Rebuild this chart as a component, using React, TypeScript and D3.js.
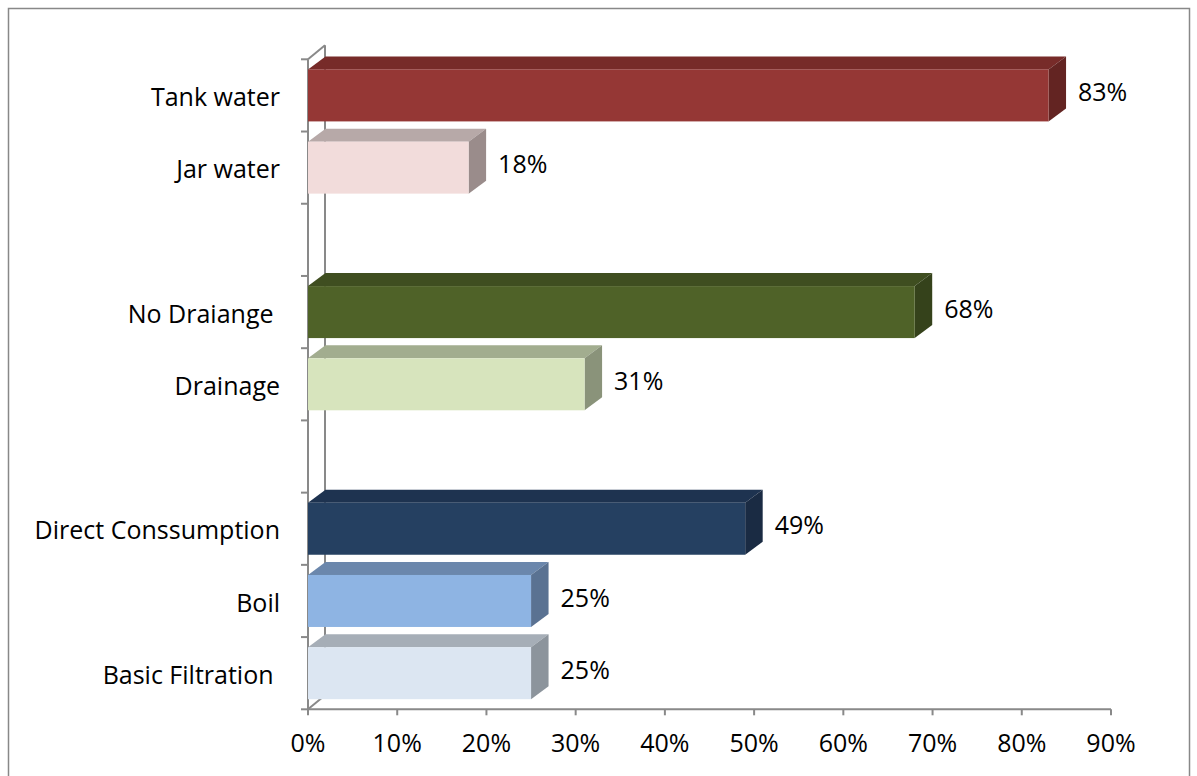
import React from "react";
import * as d3 from "d3";

const categories = [
  "Tank water",
  "Jar water",
  "",
  "No Draiange ",
  "Drainage",
  "",
  "Direct Conssumption",
  "Boil",
  "Basic Filtration ",
];
const values: (number | null)[] = [0.83, 0.18, null, 0.68, 0.31, null, 0.49, 0.25, 0.25];
const frontColors = ["#953735", "#F2DCDB", "", "#4F6228", "#D7E4BD", "", "#254061", "#8EB4E3", "#DCE6F2"];
const topColors = ["#772B29", "#B7A9A8", "", "#3F4E20", "#A2AD8F", "", "#1E3350", "#6B87AC", "#A6AEB7"];
const sideColors = ["#632422", "#9A8C8B", "", "#35421B", "#8A937A", "", "#1A2B43", "#5A7292", "#8C949C"];
const xTicks = [0, 0.1, 0.2, 0.3, 0.4, 0.5, 0.6, 0.7, 0.8, 0.9];

const W = 1197;
const H = 776;
const FONT = "'Open Sans', sans-serif";
const FS = 25;

export default function App() {
  const x = d3.scaleLinear().domain([0, 0.9]).range([308, 1111]);
  const ids = categories.map((_, i) => String(i));
  const y = d3.scaleBand<string>().domain(ids).range([59.3, 709.3]).paddingInner(0.28).paddingOuter(0.14);
  const step = y.step();
  const top = 59.3;
  const bottom = 709.3;
  const wdx = 17, wdy = -14; // wall depth
  const bdx = 17.5, bdy = -13; // bar depth
  const axisColor = "#898989";
  const fmt = d3.format(".0%");

  const yTickPos = d3.range(categories.length + 1).map((i) => top + i * step);

  return (
    <svg width={W} height={H} style={{ position: "absolute", left: 0, top: 0, background: "#fff" }}>
      <rect x={8.5} y={8.5} width={1181} height={820} fill="#fff" stroke="#888" strokeWidth={1.5} />
      {/* back wall line */}
      <g stroke={axisColor} strokeWidth={2} fill="none">
        <line x1={x(0) + wdx} y1={top + wdy} x2={x(0) + wdx} y2={bottom + wdy} />
        <line x1={x(0)} y1={top} x2={x(0) + wdx} y2={top + wdy} />
        <line x1={x(0)} y1={bottom} x2={x(0) + wdx} y2={bottom + wdy} />
        {/* front vertical axis */}
        <line x1={x(0)} y1={top} x2={x(0)} y2={bottom} />
        {yTickPos.map((t, i) => (
          <line key={"yt" + i} x1={x(0) - 7} y1={t} x2={x(0)} y2={t} />
        ))}
        {/* floor axis */}
        <line x1={x(0)} y1={bottom} x2={x(0.9)} y2={bottom} />
        {xTicks.map((t, i) => (
          <line key={"xt" + i} x1={x(t)} y1={bottom} x2={x(t)} y2={bottom + 6} />
        ))}
      </g>
      {/* bars */}
      {values.map((v, i) => {
        if (v == null) return null;
        const y0 = y(ids[i])!;
        const h = y.bandwidth();
        const x0 = x(0);
        const x1 = x(v);
        const topPts = [
          [x0, y0],
          [x0 + bdx, y0 + bdy],
          [x1 + bdx, y0 + bdy],
          [x1, y0],
        ];
        const sidePts = [
          [x1, y0],
          [x1 + bdx, y0 + bdy],
          [x1 + bdx, y0 + h + bdy],
          [x1, y0 + h],
        ];
        return (
          <g key={"b" + i}>
            <polygon points={topPts.map((p) => p.join(",")).join(" ")} fill={topColors[i]} />
            <polygon points={sidePts.map((p) => p.join(",")).join(" ")} fill={sideColors[i]} />
            <rect x={x0} y={y0} width={x1 - x0} height={h} fill={frontColors[i]} />
            <text
              x={x1 + bdx + 12}
              y={y0 + h / 2 + 5.6}
              fontFamily={FONT}
              fontSize={FS}
              fill="#000"
            >
              {fmt(v)}
            </text>
          </g>
        );
      })}
      {/* category labels */}
      {categories.map((c, i) => (
        <text
          key={"c" + i}
          x={280}
          y={y(ids[i])! + y.bandwidth() / 2 + 10.7}
          textAnchor="end"
          fontFamily={FONT}
          fontSize={FS}
          fill="#000"
          style={{ whiteSpace: "pre" }}
        >
          {c}
        </text>
      ))}
      {/* x tick labels */}
      {xTicks.map((t, i) => (
        <text key={"xl" + i} x={x(t)} y={751.7} textAnchor="middle" fontFamily={FONT} fontSize={FS} fill="#000">
          {fmt(t)}
        </text>
      ))}
    </svg>
  );
}
